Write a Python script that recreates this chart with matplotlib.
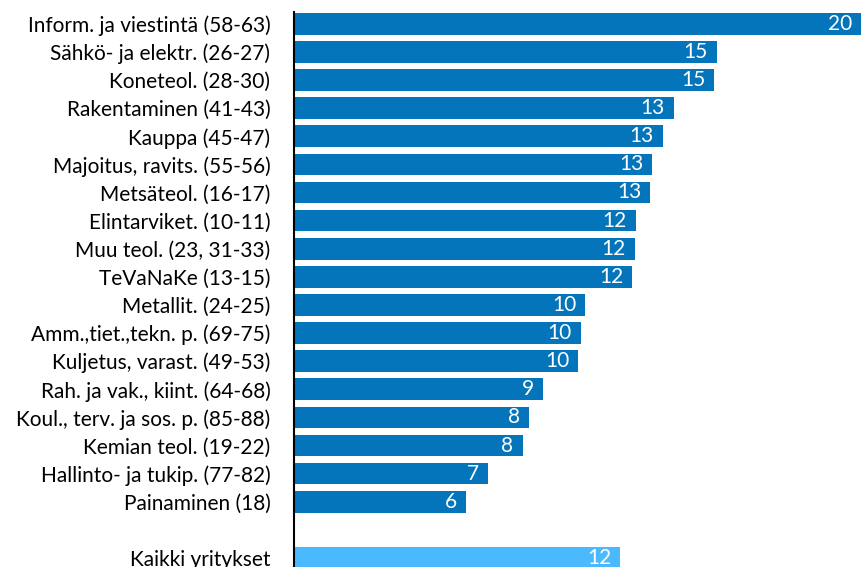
import matplotlib
matplotlib.use("Agg")
import matplotlib.pyplot as plt

# Toimialat ja arvot (ylhäältä alas)
categories = [
    "Inform. ja viestintä (58-63)",
    "Sähkö- ja elektr. (26-27)",
    "Koneteol. (28-30)",
    "Rakentaminen (41-43)",
    "Kauppa (45-47)",
    "Majoitus, ravits. (55-56)",
    "Metsäteol. (16-17)",
    "Elintarviket. (10-11)",
    "Muu teol. (23, 31-33)",
    "TeVaNaKe (13-15)",
    "Metallit. (24-25)",
    "Amm.,tiet.,tekn. p. (69-75)",
    "Kuljetus, varast. (49-53)",
    "Rah. ja vak., kiint. (64-68)",
    "Koul., terv. ja sos. p. (85-88)",
    "Kemian teol. (19-22)",
    "Hallinto- ja tukip. (77-82)",
    "Painaminen (18)",
]
values = [20.0, 14.91, 14.83, 13.39, 13.0, 12.63, 12.57, 12.05, 12.02, 11.93,
          10.27, 10.11, 10.02, 8.79, 8.30, 8.06, 6.86, 6.08]

total_label = "Kaikki yritykset"
total_value = 11.51

dark_blue = "#0474bb"
light_blue = "#4bb9fe"

plt.rcParams["font.family"] = ["Lato", "DejaVu Sans"]

fig = plt.figure(figsize=(8.61, 5.67), dpi=100)
ax = fig.add_axes([294 / 861, 0, 1 - 294 / 861, 1])

n = len(categories)
ypos = list(range(n))
total_pos = n + 1  # yksi tyhjä rivi väliin

ax.barh(ypos, values, height=0.77, color=dark_blue)
ax.barh([total_pos], [total_value], height=0.77, color=light_blue)

for y, v in zip(ypos + [total_pos], values + [total_value]):
    ax.annotate(f"{v:.0f}", xy=(v, y), xytext=(-6.5, 0), textcoords="offset points",
                ha="right", va="center", color="white", fontsize=15)

ax.set_yticks(ypos + [total_pos])
ax.set_yticklabels(categories + [total_label], fontsize=15)
ax.tick_params(axis="y", length=0, pad=17)
ax.set_xticks([])

ax.set_xlim(0, 20.0)
ax.set_ylim(19.32, -0.846)

for side in ["top", "right", "bottom"]:
    ax.spines[side].set_visible(False)
ax.spines["left"].set_linewidth(1.5)
ax.spines["left"].set_color("black")
ax.spines["left"].set_bounds(19.32, -0.43)

fig.savefig("out.png", dpi=100)
